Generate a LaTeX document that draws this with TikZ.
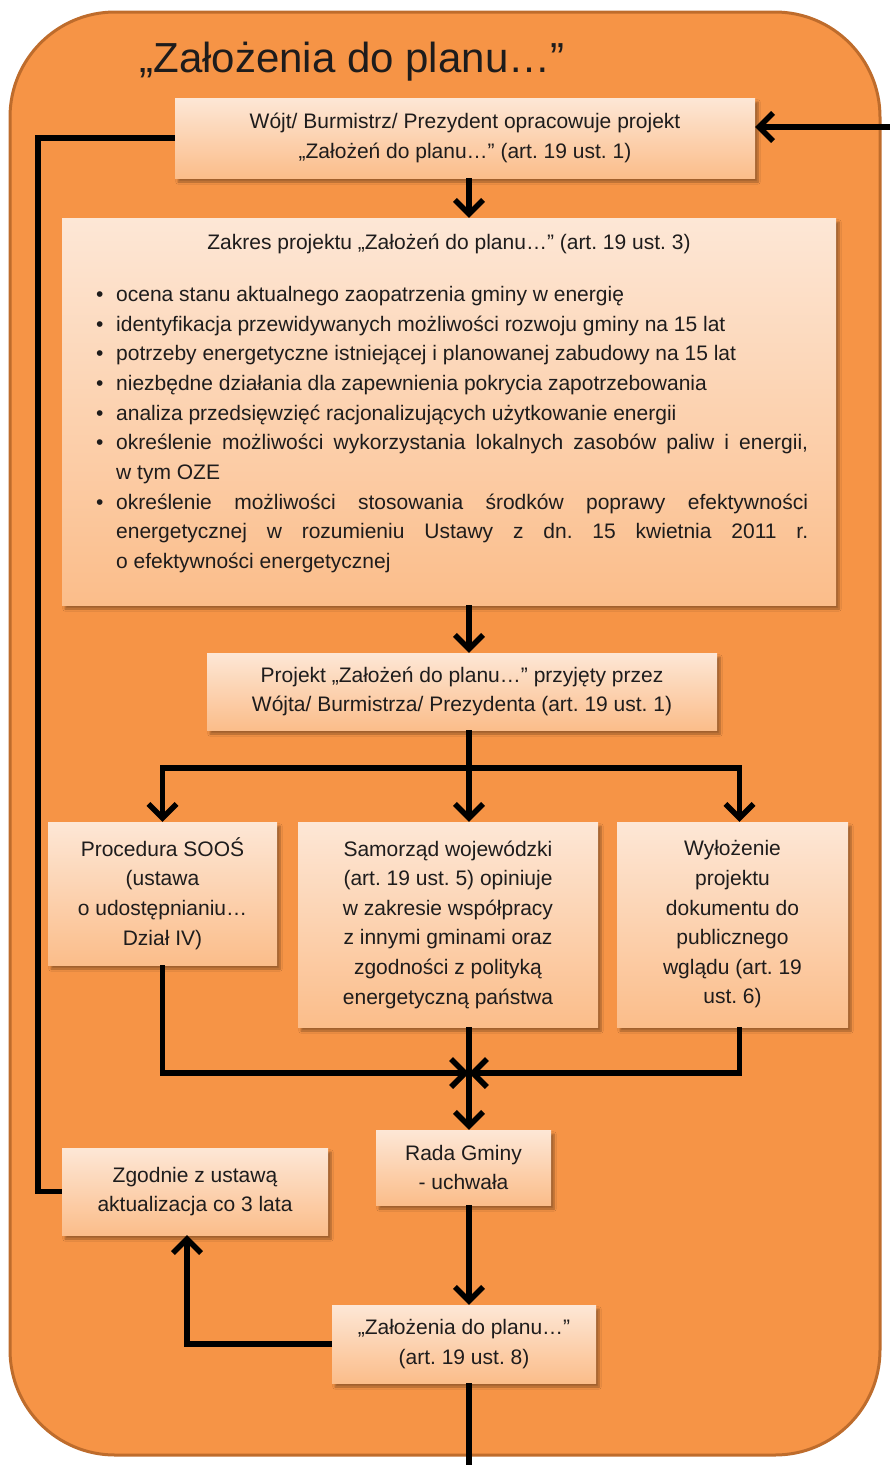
\documentclass[tikz,border=0pt]{standalone}
\usepackage{fontspec}
\setmainfont{Liberation Sans}
\frenchspacing
\usetikzlibrary{arrows.meta,shadows.blur,calc}
\definecolor{panel}{RGB}{246,148,70}
\definecolor{panelrim}{RGB}{190,108,44}
\definecolor{boxtop}{RGB}{253,231,214}
\definecolor{boxbot}{RGB}{251,189,138}
\definecolor{txt}{RGB}{30,28,28}
\begin{document}
\begin{tikzpicture}[x=1pt,y=-1pt,
  box/.style={rectangle, inner sep=0pt, draw=none,
    top color=boxtop, bottom color=boxbot,
    blur shadow={shadow xshift=3pt, shadow yshift=-4pt, shadow blur steps=6, shadow opacity=35},
    align=center, text=txt, font=\fontsize{21}{29.6}\selectfont},
  plain/.style={inner sep=0pt, text=txt, font=\fontsize{21}{29.6}\selectfont},
  wire/.style={line width=5.5pt, draw=black},
  arr/.style={wire, -{Straight Barb[length=14pt,width=28pt]}}]
\useasboundingbox (0,0) rectangle (890,1465);

% outer panel
\draw[fill=panel, draw=panelrim, line width=3pt, rounded corners=105pt] (10,12) rectangle (880,1455);
\node[plain, font=\fontsize{42}{48}\selectfont] (title) at (352,62) {„Założenia do planu…”};

% boxes
\node[box, minimum width=580pt, minimum height=80pt] (b1) at (465,138)
  {Wójt/ Burmistrz/ Prezydent opracowuje projekt\\„Założeń do planu…” (art. 19 ust. 1)};
\node[box, minimum width=774pt, minimum height=387pt] (b2) at (449,411.5) {};
\node[plain] (b2t) at (449,244) {Zakres projektu „Założeń do planu…” (art. 19 ust. 3)};
\node[plain, anchor=base west] (b2l) at (96,301.5) {\begin{minipage}[t]{712pt}\raggedright
\fontsize{21}{29.67}\selectfont
\makebox[20pt][l]{•}ocena stanu aktualnego zaopatrzenia gminy w energię\\
\makebox[20pt][l]{•}identyfikacja przewidywanych możliwości rozwoju gminy na 15 lat\\
\makebox[20pt][l]{•}potrzeby energetyczne istniejącej i planowanej zabudowy na 15 lat\\
\makebox[20pt][l]{•}niezbędne działania dla zapewnienia pokrycia zapotrzebowania\\
\makebox[20pt][l]{•}analiza przedsięwzięć racjonalizujących użytkowanie energii\\
\makebox[20pt][l]{•}\makebox[692pt][s]{określenie możliwości wykorzystania lokalnych zasobów paliw i energii,}\\
\hspace*{20pt}w tym OZE\\
\makebox[20pt][l]{•}\makebox[692pt][s]{określenie możliwości stosowania środków poprawy efektywności}\\
\hspace*{20pt}\makebox[692pt][s]{energetycznej w rozumieniu Ustawy z dn. 15 kwietnia 2011 r.}\\
\hspace*{20pt}o efektywności energetycznej
\end{minipage}};
\node[box, minimum width=510pt, minimum height=77pt] (b3) at (462,691.5)
  {Projekt „Założeń do planu…” przyjęty przez\\Wójta/ Burmistrza/ Prezydenta (art. 19 ust. 1)};
\node[box, minimum width=229pt, minimum height=143pt] (soos) at (162.5,893.5)
  {Procedura SOOŚ\\(ustawa\\o udostępnianiu…\\Dział IV)};
\node[box, minimum width=300pt, minimum height=205pt] (sam) at (448,924.5)
  {Samorząd wojewódzki\\(art. 19 ust. 5) opiniuje\\w zakresie współpracy\\z innymi gminami oraz\\zgodności z polityką\\energetyczną państwa};
\node[box, minimum width=231pt, minimum height=205pt] (wyl) at (732.5,924.5)
  {Wyłożenie\\projektu\\dokumentu do\\publicznego\\wglądu (art. 19\\ust. 6)};
\node[box, minimum width=175pt, minimum height=75pt] (rada) at (463.5,1167.5)
  {Rada Gminy\\- uchwała};
\node[box, minimum width=266pt, minimum height=87pt] (zg) at (195,1191.5)
  {Zgodnie z ustawą\\aktualizacja co 3 lata};
\node[box, minimum width=264pt, minimum height=78pt] (zal) at (464,1344)
  {„Założenia do planu…”\\(art. 19 ust. 8)};

% connector helpers
\coordinate (spine) at (469,0);
\coordinate (in) at (890,127);
\coordinate (loop) at (38,0);
\coordinate (br) at (469,768);
\coordinate (mg) at (469,1073);
\coordinate (out) at (469,1465);

% connectors
\draw[arr] (in) -- (in -| b1.east);
\draw[wire] (b1.west) -| (loop |- zg.west) -- (zg.west);
\draw[arr] (b1.south -| spine) -- (b2.north -| spine);
\draw[arr] (b2.south -| spine) -- (b3.north -| spine);
\draw[wire] (b3.south -| spine) -- (br);
\draw[arr] (br) -| (soos.north);
\draw[arr] (br) -- (sam.north -| br);
\draw[arr] (br) -| ([xshift=7pt]wyl.north);
\draw[arr] (soos.south) |- (mg);
\draw[arr] ([xshift=7pt]wyl.south) |- (mg);
\draw[arr] (sam.south -| mg) -- (rada.north -| mg);
\draw[arr] (rada.south -| spine) -- (zal.north -| spine);
\draw[arr] (zal.west) -| ([xshift=-8pt]zg.south);
\draw[wire] (zal.south -| spine) -- (out);
\end{tikzpicture}
\end{document}
